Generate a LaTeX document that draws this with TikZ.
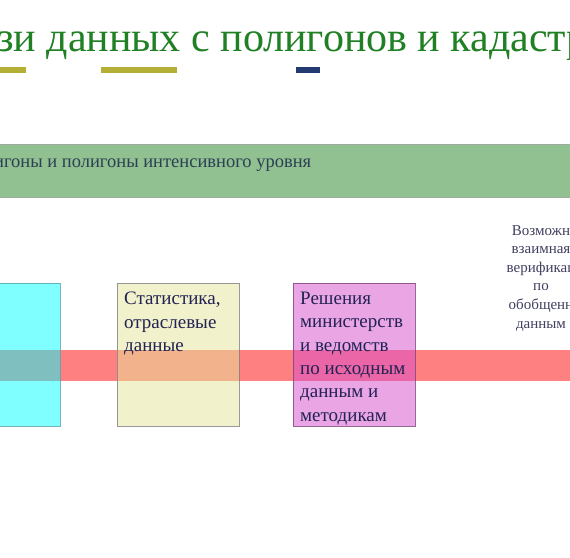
\documentclass[tikz,border=0pt]{standalone}
\usepackage{fontspec}
\setmainfont{Liberation Serif}
\usepackage{xcolor}
\usetikzlibrary{positioning}

\definecolor{titlegreen}{RGB}{32,128,36}
\definecolor{barolive}{RGB}{181,176,53}
\definecolor{barnavy}{RGB}{36,58,115}
\definecolor{bandgreen}{RGB}{145,192,145}
\definecolor{bandedge}{RGB}{160,170,160}
\definecolor{bandtext}{RGB}{44,64,84}
\definecolor{bandred}{RGB}{255,128,128}
\definecolor{boxtext}{RGB}{34,34,84}
\definecolor{sidetext}{RGB}{64,64,96}
\definecolor{cyanbase}{RGB}{0,255,255}
\definecolor{cyanedge}{RGB}{90,160,170}
\definecolor{yellowbase}{RGB}{229,229,153}
\definecolor{magentabase}{RGB}{215,77,205}

\begin{document}
\begin{tikzpicture}[x=1pt, y=-1pt,
    titletext/.style={anchor=base west, inner sep=0, font=\fontsize{42}{50}\selectfont, text=titlegreen},
    bar/.style={rectangle, anchor=north west, inner sep=0, outer sep=0, minimum height=6pt},
    band/.style={rectangle, anchor=north west, inner sep=0, outer sep=0},
    source/.style={rectangle, anchor=north west, inner sep=0, outer sep=0, minimum width=122pt, minimum height=143pt, fill opacity=0.5, draw opacity=0.8, line width=0.6pt},
    sourcetext/.style={anchor=north west, inner sep=0, align=left, text=boxtext, font=\fontsize{19}{23.3}\selectfont},
    sidenote/.style={anchor=north, inner sep=0, align=center, text=sidetext, font=\fontsize{15}{18.6}\selectfont}]
    \clip (0,0) rectangle (570,557);
    \fill[white] (0,0) rectangle (570,557);

    % title and bars
    \node[titletext] (title) at (-3,51) {зи данных с полигонов и кадастр};
    \node[bar, fill=barolive, minimum width=30pt] (bar1) at (-4,67) {};
    \node[bar, fill=barolive, minimum width=76pt] (bar2) at (101,67) {};
    \node[bar, fill=barnavy, minimum width=24pt] (bar3) at (296,67) {};

    % polygons band
    \node[band, fill=bandgreen, draw=bandedge, line width=1pt, minimum width=590pt, minimum height=53pt] (polygons) at (-10,144) {};
    \node[anchor=base west, inner sep=0, text=bandtext, font=\fontsize{18.5}{23}\selectfont] (polytext) at (-6,167) {игоны и полигоны интенсивного уровня};

    % red band behind the sources
    \node[band, fill=bandred, minimum width=590pt, minimum height=31pt] (redband) at (-10,350) {};

    % sources
    \node[source, fill=cyanbase, draw=cyanedge] (src1) at (-62,283) {};
    \node[source, fill=yellowbase, draw=gray] (src2) at (117,283) {};
    \node[source, fill=magentabase, draw=violet!50!gray] (src3) at (293,283) {};
    \node[sourcetext] (src2text) at ([xshift=7pt, yshift=-9pt]src2.north west) {Статистика,\\отраслевые\\данные};
    \node[sourcetext] (src3text) at ([xshift=7pt, yshift=-9pt]src3.north west) {Решения\\министерств\\и ведомств\\по исходным\\данным и\\методикам};

    % side note
    \node[sidenote] (note) at (541,225) {Возможн\\взаимная\\верификац\\по\\обобщенн\\данным};
\end{tikzpicture}
\end{document}
